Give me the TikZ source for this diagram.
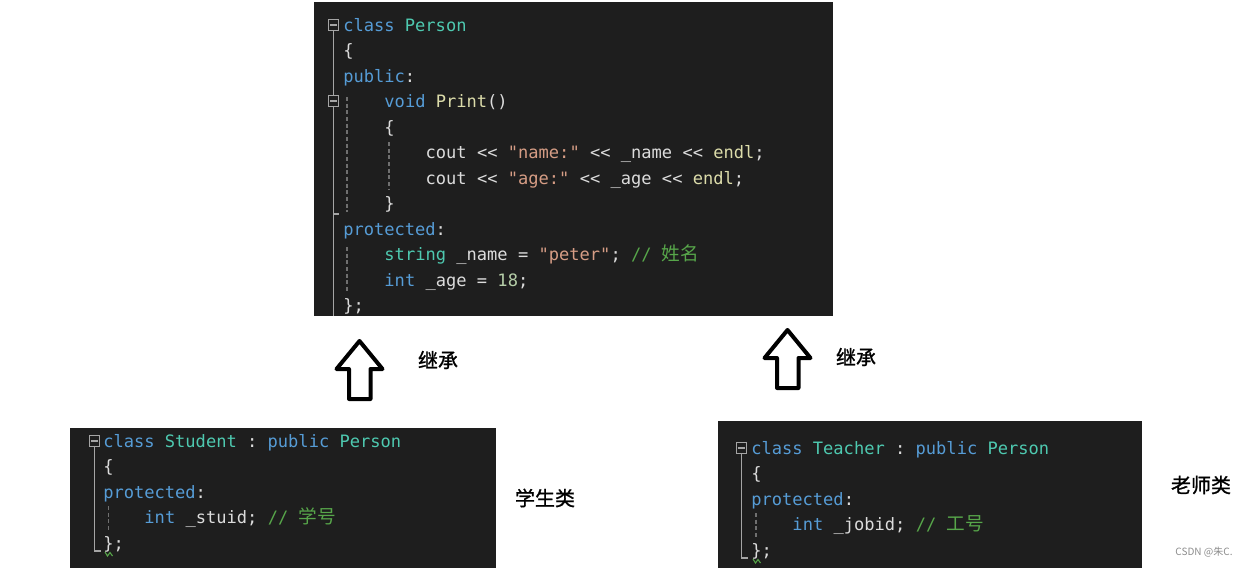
\documentclass[tikz,border=0pt]{standalone}
\usepackage{fontspec}
\setmonofont{DejaVu Sans Mono}
\newfontfamily\cjk{Noto Sans CJK SC}
\newfontfamily\cjkforte[FakeBold=1.2]{Noto Sans CJK SC}

\definecolor{fundo}{HTML}{1E1E1E}
\definecolor{azul}{HTML}{569CD6}
\definecolor{ciano}{HTML}{4EC9B0}
\definecolor{amarelo}{HTML}{DCDCAA}
\definecolor{laranja}{HTML}{D69D85}
\definecolor{verde}{HTML}{57A64A}
\definecolor{verdeclaro}{HTML}{B5CEA8}
\definecolor{texto}{HTML}{DCDCDC}
\definecolor{dobra}{HTML}{A5A5A5}
\definecolor{guia}{HTML}{707070}

\newcommand{\kw}[1]{\textcolor{azul}{#1}}
\newcommand{\ty}[1]{\textcolor{ciano}{#1}}
\newcommand{\cfn}[1]{\textcolor{amarelo}{#1}}
\newcommand{\cstr}[1]{\textcolor{laranja}{#1}}
\newcommand{\cmt}[1]{\textcolor{verde}{#1}}
\newcommand{\cnum}[1]{\textcolor{verdeclaro}{#1}}
\newcommand{\codefont}{\ttfamily\fontsize{12.8pt}{15pt}\selectfont}
\newcommand{\hz}[1]{{\cjk\fontsize{14pt}{15pt}\selectfont #1}}

\begin{document}
\begin{tikzpicture}[x=0.75pt, y=-0.75pt,
		code/.style={anchor=base west, inner sep=0pt, font=\codefont, text=texto},
		foldbox/.style={draw=dobra, line width=0.8pt, minimum size=8pt, inner sep=0pt,
			path picture={\draw[dobra, line width=0.9pt] ([xshift=1.6pt]path picture bounding box.west) -- ([xshift=-1.6pt]path picture bounding box.east);}},
		foldline/.style={dobra, line width=1.1pt},
		guideline/.style={guia, line width=0.8pt, dash pattern=on 3pt off 2pt},
		hollowarrow/.style={black, line width=3pt, line join=round},
		rotulo/.style={font=\cjkforte\fontsize{15pt}{16pt}\selectfont, inner sep=0pt}]
		\useasboundingbox (0,0) rectangle (1249,568);

		% Classe Person
		\fill[fundo] (314,2) rectangle (833,316);											% Painel Person
		\node[foldbox] (pf1) at (333.5,25) {};
		\node[foldbox] (pf2) at (333.5,101) {};
		\draw[foldline] (pf1.south) -- (pf1.south |- 0,95);
		\draw[foldline] (pf2.south) -- (pf2.south |- 0,214) -- (339,214);
		\draw[foldline] (pf2.south |- 0,214) -- (pf2.south |- 0,316);
		\draw[guideline] (347,97) -- (347,212);
		\draw[guideline] (347,247) -- (347,292);
		\draw[guideline] (389,142) -- (389,190);

		\node[code] (p1)  at (343,31.3)    {\kw{class} \ty{Person}};
		\node[code] (p2)  at (343,56.8)    {\{};
		\node[code] (p3)  at (343,82.3)    {\kw{public}:};
		\node[code] (p4)  at (384.2,107.8) {\kw{void} \cfn{Print}()};
		\node[code] (p5)  at (384.2,133.3) {\{};
		\node[code] (p6)  at (425.4,158.8) {cout << \cstr{"name:"} << \_name << \cfn{endl};};
		\node[code] (p7)  at (425.4,184.3) {cout << \cstr{"age:"} << \_age << \cfn{endl};};
		\node[code] (p8)  at (384.2,209.8) {\}};
		\node[code] (p9)  at (343,235.3)   {\kw{protected}:};
		\node[code] (p10) at (384.2,260.8) {\ty{string} \_name = \cstr{"peter"}; \cmt{// \hz{姓名}}};
		\node[code] (p11) at (384.2,286.3) {\kw{int} \_age = \cnum{18};};
		\node[code] (p12) at (343,311.8)   {\};};

		% Setas de heranca
		\draw[hollowarrow, shift={(359.5,341)}] (0,0) -- (23,28) -- (11,28) -- (11,58)
			-- (-10.5,58) -- (-10.5,28) -- (-23,28) -- cycle;								% Seta esquerda
		\draw[hollowarrow, shift={(787.5,330)}] (0,0) -- (23,28) -- (11,28) -- (11,58)
			-- (-10.5,58) -- (-10.5,28) -- (-23,28) -- cycle;								% Seta direita
		\node[rotulo] (h1) at (438,360) {继承};												% Rotulo esquerdo
		\node[rotulo] (h2) at (856,357) {继承};												% Rotulo direito

		% Classe Student
		\fill[fundo] (70,428) rectangle (496,568);											% Painel Student
		\node[foldbox] (sf) at (94.5,441) {};
		\draw[foldline] (sf.south) -- (sf.south |- 0,551) -- (101,551);
		\draw[guideline] (108.5,506) -- (108.5,531);
		\node[code] (s1) at (103,447.3)   {\kw{class} \ty{Student} : \kw{public} \ty{Person}};
		\node[code] (s2) at (103,472.8)   {\{};
		\node[code] (s3) at (103,498.3)   {\kw{protected}:};
		\node[code] (s4) at (144.2,523.8) {\kw{int} \_stuid; \cmt{// \hz{学号}}};
		\node[code] (s5) at (103,549.3)   {\};};
		\draw[verde, line width=0.8pt] (105,552) -- (107.5,556) -- (110,552.5) -- (112.5,556);
		\node[rotulo] (ls) at (545,498) {学生类};											% Rotulo Student

		% Classe Teacher
		\fill[fundo] (718,421) rectangle (1142,568);										% Painel Teacher
		\node[foldbox] (tf) at (741.5,448) {};
		\draw[foldline] (tf.south) -- (tf.south |- 0,558) -- (748,558);
		\draw[guideline] (756,513) -- (756,538);
		\node[code] (t1) at (751,454.3)   {\kw{class} \ty{Teacher} : \kw{public} \ty{Person}};
		\node[code] (t2) at (751,479.8)   {\{};
		\node[code] (t3) at (751,505.3)   {\kw{protected}:};
		\node[code] (t4) at (792.2,530.8) {\kw{int} \_jobid; \cmt{// \hz{工号}}};
		\node[code] (t5) at (751,556.3)   {\};};
		\draw[verde, line width=0.8pt] (753,559) -- (755.5,563) -- (758,559.5) -- (760.5,563);
		\node[rotulo] (lt) at (1201,485) {老师类};											% Rotulo Teacher

		% Marca d'agua
		\node[font=\cjk\fontsize{7.5pt}{8pt}\selectfont, text=black!45, inner sep=0pt] (wm) at (1204,552) {CSDN @朱C.};
	\end{tikzpicture}
\end{document}
